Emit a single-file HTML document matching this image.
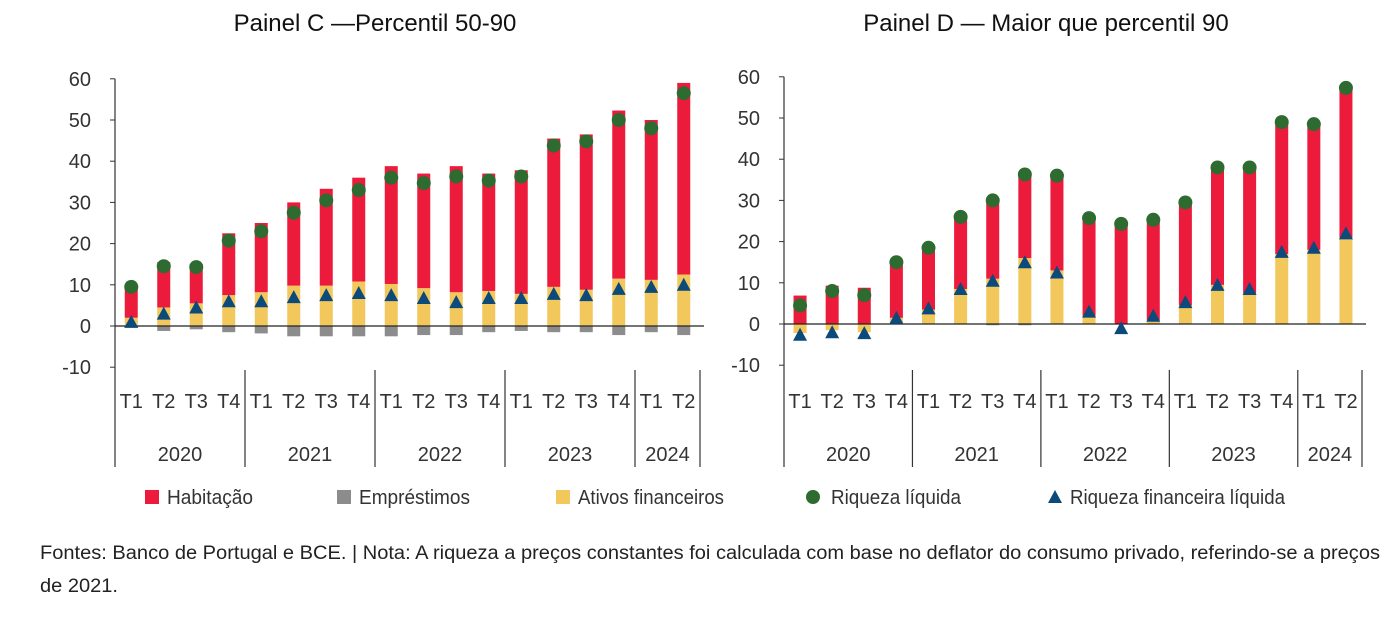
<!DOCTYPE html>
<html><head><meta charset="utf-8"><style>
html,body{margin:0;padding:0;background:#fff;}
svg{display:block;font-family:"Liberation Sans",sans-serif;}
</style></head><body>
<svg id="chart" width="1398" height="619" viewBox="0 0 1398 619" xmlns="http://www.w3.org/2000/svg">
<text x="375" y="31" font-size="24" text-anchor="middle" fill="#111">Painel C —Percentil 50-90</text>
<text x="1046" y="31" font-size="24" text-anchor="middle" fill="#111">Painel D — Maior que percentil 90</text>
<g id="pc"></g>
<g id="pd"></g>
<g font-size="20" fill="#333">
<g><rect x="145" y="490" width="14" height="14" fill="#EC1B3B"/><text x="167" y="504" textLength="86" lengthAdjust="spacingAndGlyphs">Habitação</text></g>
<g><rect x="337" y="490" width="14" height="14" fill="#8C8C8C"/><text x="359" y="504" textLength="111" lengthAdjust="spacingAndGlyphs">Empréstimos</text></g>
<g><rect x="556" y="490" width="14" height="14" fill="#F2C75C"/><text x="578" y="504" textLength="146" lengthAdjust="spacingAndGlyphs">Ativos financeiros</text></g>
<g><circle cx="813" cy="497" r="7" fill="#2E6B30"/><text x="831" y="504" textLength="130" lengthAdjust="spacingAndGlyphs">Riqueza líquida</text></g>
<g><polygon points="1055,490 1062,503 1048,503" fill="#0B4A7B"/><text x="1070" y="504" textLength="215" lengthAdjust="spacingAndGlyphs">Riqueza financeira líquida</text></g>
</g>
<text font-size="19" fill="#222" x="40" y="559" textLength="1340" lengthAdjust="spacingAndGlyphs">Fontes: Banco de Portugal e BCE.  |  Nota: A riqueza a preços constantes foi calculada com base no deflator do consumo privado, referindo-se a preços</text>
<text font-size="19" fill="#222" x="40" y="592" textLength="78" lengthAdjust="spacingAndGlyphs">de 2021.</text>
</svg>
<script>
const quarters = ["T1","T2","T3","T4","T1","T2","T3","T4","T1","T2","T3","T4","T1","T2","T3","T4","T1","T2"];
const years = ["2020","2021","2022","2023","2024"];
const yTicks = [60,50,40,30,20,10,0,-10];
// Panel C
const cAtivos = [2,4.5,5.5,7.5,8.2,9.8,9.8,10.8,10.2,9.2,8.2,8.5,7.8,9.5,8.8,11.5,11.2,12.5];
const cHab = [8,11,9.5,15,16.8,20.2,23.5,25.2,28.6,27.8,30.6,28.5,30,36,37.7,40.8,38.8,46.5];
const cEmp = [-0.3,-1.2,-0.8,-1.5,-1.8,-2.5,-2.5,-2.5,-2.5,-2.2,-2.2,-1.5,-1.2,-1.5,-1.5,-2.2,-1.5,-2.2];
const cRiq = [9.5,14.5,14.3,20.7,23,27.5,30.5,33,36,34.7,36.3,35.3,36.3,43.8,44.8,50,48,56.5];
const cFin = [1,3,4.5,6,6,7,7.5,8,7.5,6.8,5.8,6.8,6.8,7.8,7.5,9,9.5,10];
// Panel D
const dAtivos = [-2.2,-1.5,-2,1.5,3.5,8.5,11,16,13,2,0,1,4.5,9.5,7.5,17,18,21];
const dHab = [6.9,9.3,8.8,13,15,17.5,19,20,23,23.5,24,24,25,28,30,32,30.3,36];
const dEmp = [0,0,0,0,0,0,-0.3,-0.3,0,0,0,0,0,0,0,0,0,0];
const dRiq = [4.5,8,7,15,18.5,26,30,36.3,36,25.7,24.3,25.3,29.5,38,38,49,48.5,57.3];
const dFin = [-2.6,-2,-2.2,1.5,3.8,8.5,10.5,15,12.5,3,-1,2,5.3,9.5,8.5,17.5,18.5,22];

const NS="http://www.w3.org/2000/svg";
function mk(parent,tag,attrs){const e=document.createElementNS(NS,tag);for(const k in attrs)e.setAttribute(k,attrs[k]);parent.appendChild(e);return e;}

function drawPanel(g, cfg, ativos, hab, emp, riq, fin){
  const y = v => cfg.y0 - v*cfg.k;
  const step = (cfg.x1 - cfg.x0)/quarters.length;
  const xc = i => cfg.x0 + step*(i+0.5);
  // ticks & axis
  yTicks.forEach(t=>{
    const tl = mk(g,'text',{x:cfg.x0-24,y:y(t)+7,'font-size':20,'text-anchor':'end',fill:'#333'});
    
    
    tl.textContent=t;
    mk(g,'line',{x1:cfg.x0-5,x2:cfg.x0,y1:y(t),y2:y(t),stroke:'#333','stroke-width':1});
  });
  const ax = mk(g,'line',{x1:cfg.x0,x2:cfg.x0,y1:y(60),y2:467,stroke:'#333','stroke-width':1.2});
  
  
  // bars
  quarters.forEach((q,i)=>{
    const bw=13, bx=xc(i)-bw/2;
    const a=ativos[i];
    const pos=Math.max(a,0), neg=Math.min(a,0);
    if(a>0){const r=mk(g,'rect',{x:bx,y:y(a),width:bw,height:a*cfg.k,fill:'#F2C75C'});
      
      }
    if(a<0){const r=mk(g,'rect',{x:bx,y:y(0),width:bw,height:-a*cfg.k,fill:'#F2C75C'});
      
      }
    const h=mk(g,'rect',{x:bx,y:y(pos+hab[i]),width:bw,height:hab[i]*cfg.k,fill:'#EC1B3B'});
    
    
    if(emp[i]<0){const e=mk(g,'rect',{x:bx,y:y(neg),width:bw,height:-emp[i]*cfg.k,fill:'#8C8C8C'});
      
      }
  });
  const zl=mk(g,'line',{x1:cfg.x0,x2:cfg.x1+4,y1:y(0),y2:y(0),stroke:'#222','stroke-width':1.2});
  
  
  quarters.forEach((q,i)=>{
    const c=mk(g,'circle',{cx:xc(i),cy:y(riq[i]),r:7,fill:'#2E6B30'});
    
    
    const ty=y(fin[i]);
    const t=mk(g,'polygon',{points:`${xc(i)},${ty-7} ${xc(i)+7},${ty+6} ${xc(i)-7},${ty+6}`,fill:'#0B4A7B'});
    
    
    const ql=mk(g,'text',{x:xc(i),y:408,'font-size':20,'text-anchor':'middle',fill:'#333'});
    
    
    ql.textContent=q;
  });
  years.forEach((yr,j)=>{
    const s=j*4, e=Math.min(s+4,quarters.length);
    const yl=mk(g,'text',{x:(xc(s)+xc(e-1))/2,y:461,'font-size':20,'text-anchor':'middle',fill:'#333'});
    
    
    yl.textContent=yr;
    const sx=cfg.x0+step*e;
    mk(g,'line',{x1:sx,x2:sx,y1:370,y2:467,stroke:'#333','stroke-width':1.2});
  });
}
drawPanel(document.getElementById('pc'),{x0:115,x1:700,y0:326,k:4.12},cAtivos,cHab,cEmp,cRiq,cFin);
drawPanel(document.getElementById('pd'),{x0:784,x1:1362,y0:324,k:4.12},dAtivos,dHab,dEmp,dRiq,dFin);
</script>
</body></html>
